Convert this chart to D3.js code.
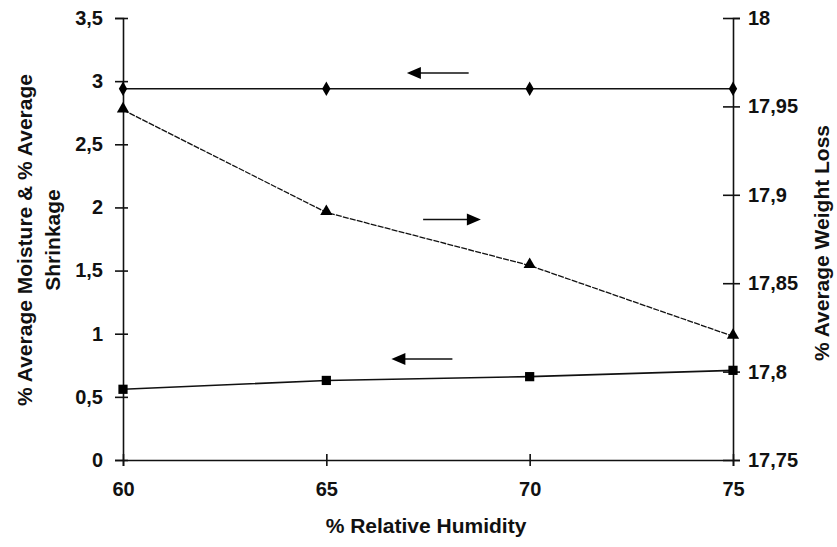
<!DOCTYPE html>
<html>
<head>
<meta charset="utf-8">
<script src="https://cdn.jsdelivr.net/npm/d3@7"></script>
<style>
  body { margin: 0; background: #fff; }
  svg { font-family: "Liberation Sans", Arial, sans-serif; }
  .tick text { font-weight: bold; font-size: 20px; fill: #111; }
  .axisTitle { font-weight: bold; font-size: 21px; fill: #111; }
</style>
</head>
<body>
<div id="chart"></div>
<script>
var humidity = [60, 65, 70, 75];
var moisture = [2.94, 2.94, 2.94, 2.94];      // diamonds, left axis
var shrinkage = [0.56, 0.63, 0.66, 0.71];     // squares, left axis
var weightLoss = [17.948, 17.89, 17.86, 17.82]; // triangles, right axis

var xTicks = [60, 65, 70, 75];
var leftTicks = [0, 0.5, 1, 1.5, 2, 2.5, 3, 3.5];
var rightTicks = [17.75, 17.8, 17.85, 17.9, 17.95, 18];

var svgWidth = 837;
var svgHeight = 547;

var margin = {
    top: 18,
    right: 104,
    bottom: 87,
    left: 123
};

var width = svgWidth - margin.left - margin.right;
var height = svgHeight - margin.top - margin.bottom;

var svg = d3.select("#chart")
  .append("svg")
  .attr("width", svgWidth)
  .attr("height", svgHeight);

var chartGroup = svg.append("g")
  .attr("transform", `translate(${margin.left}, ${margin.top})`);

var fmt = d => String(d).replace(".", ",");

// Scales
var xScale = d3.scaleLinear().domain([60, 75]).range([0, width]);
var yLeft = d3.scaleLinear().domain([0, 3.5]).range([height, 0]);
var yRight = d3.scaleLinear().domain([17.75, 18]).range([height, 0]);

// Axes
var bottomAxis = d3.axisBottom(xScale).tickValues(xTicks).tickFormat(d => d)
  .tickSizeOuter(0).tickSize(6).tickPadding(16);
var leftAxis = d3.axisLeft(yLeft).tickValues(leftTicks).tickFormat(fmt)
  .tickSizeOuter(0).tickSize(8).tickPadding(12);
var rightAxis = d3.axisRight(yRight).tickValues(rightTicks).tickFormat(fmt)
  .tickSizeOuter(0).tickSize(7).tickPadding(8);

var gx = chartGroup.append("g")
  .attr("transform", `translate(0, ${height})`)
  .call(bottomAxis);
gx.selectAll(".tick line").attr("y1", -6);

var gl = chartGroup.append("g").call(leftAxis);
gl.selectAll(".tick line").attr("x1", 5);

var gr = chartGroup.append("g")
  .attr("transform", `translate(${width}, 0)`)
  .call(rightAxis);
gr.selectAll(".tick line").attr("x1", -10);

svg.selectAll(".domain, .tick line")
  .attr("stroke", "#111")
  .attr("stroke-width", 1.6);

// Lines
var rows = humidity.map((h, i) => ({ h: h, m: moisture[i], s: shrinkage[i], w: weightLoss[i] }));

var lineM = d3.line().x(d => xScale(d.h)).y(d => yLeft(d.m));
var lineS = d3.line().x(d => xScale(d.h)).y(d => yLeft(d.s));
var lineW = d3.line().x(d => xScale(d.h)).y(d => yRight(d.w));

chartGroup.append("path").datum(rows)
  .attr("d", lineM).attr("fill", "none")
  .attr("stroke", "#111").attr("stroke-width", 1.6);

chartGroup.append("path").datum(rows)
  .attr("d", lineS).attr("fill", "none")
  .attr("stroke", "#111").attr("stroke-width", 1.6);

chartGroup.append("path").datum(rows)
  .attr("d", lineW).attr("fill", "none")
  .attr("stroke", "#111").attr("stroke-width", 1.3)
  .attr("stroke-dasharray", "6,1.2");

// Markers
chartGroup.selectAll(".diamond")
  .data(rows).enter().append("path")
  .attr("transform", d => `translate(${xScale(d.h)}, ${yLeft(d.m)})`)
  .attr("d", d3.symbol(d3.symbolDiamond, 60))
  .attr("fill", "#000");

chartGroup.selectAll(".square")
  .data(rows).enter().append("path")
  .attr("transform", d => `translate(${xScale(d.h)}, ${yLeft(d.s)})`)
  .attr("d", d3.symbol(d3.symbolSquare, 85))
  .attr("fill", "#000");

chartGroup.selectAll(".triangle")
  .data(rows).enter().append("path")
  .attr("transform", d => `translate(${xScale(d.h)}, ${yRight(d.w) - 1})`)
  .attr("d", d3.symbol(d3.symbolTriangle, 65))
  .attr("fill", "#000");

// Arrows showing which axis each series belongs to (left-axis units)
var arrows = [
  { from: 68.5, to: 66.98, y: 3.065 },
  { from: 67.38, to: 68.8, y: 1.905 },
  { from: 68.1, to: 66.6, y: 0.80 }
];

arrows.forEach(function(a) {
  var x1 = xScale(a.from), x2 = xScale(a.to), y = yLeft(a.y);
  var dir = x2 > x1 ? 1 : -1;
  chartGroup.append("line")
    .attr("x1", x1).attr("x2", x2 - dir * 10)
    .attr("y1", y).attr("y2", y)
    .attr("stroke", "#111").attr("stroke-width", 1.6);
  chartGroup.append("path")
    .attr("d", `M${x2},${y} L${x2 - dir * 14},${y - 6} L${x2 - dir * 14},${y + 6} Z`)
    .attr("fill", "#000");
});

// Axis titles
svg.append("text")
  .attr("class", "axisTitle")
  .attr("text-anchor", "middle")
  .attr("transform", `translate(426, 533)`)
  .text("% Relative Humidity");

var leftTitle = svg.append("text")
  .attr("class", "axisTitle")
  .attr("text-anchor", "middle")
  .attr("transform", "translate(32, 240) rotate(-90)");
leftTitle.append("tspan").attr("x", 0).attr("dy", 0).text("% Average Moisture & % Average");
leftTitle.append("tspan").attr("x", 0).attr("dy", 28).text("Shrinkage");

svg.append("text")
  .attr("class", "axisTitle")
  .attr("text-anchor", "middle")
  .attr("transform", "translate(829, 243) rotate(-90)")
  .text("% Average Weight Loss");
</script>
</body>
</html>
